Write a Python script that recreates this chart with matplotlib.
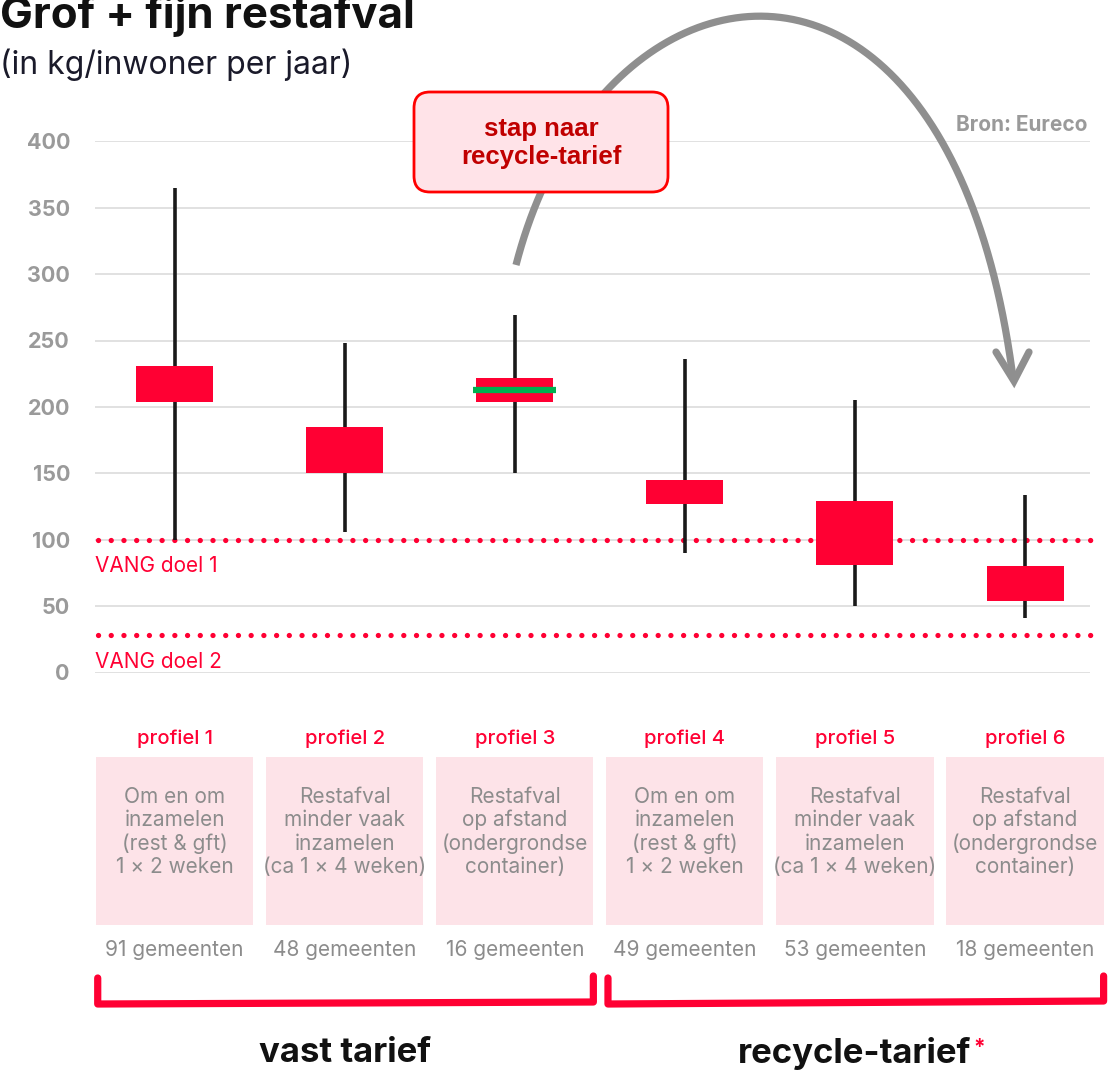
import matplotlib
matplotlib.use("Agg")
import matplotlib.pyplot as plt
import numpy as np
from matplotlib.patches import Rectangle, FancyBboxPatch
from matplotlib.transforms import blended_transform_factory

# Data
profiles = ["profiel 1", "profiel 2", "profiel 3", "profiel 4", "profiel 5", "profiel 6"]
descriptions = [
    "Om en om\ninzamelen\n(rest & gft)\n1 × 2 weken",
    "Restafval\nminder vaak\ninzamelen\n(ca 1 × 4 weken)",
    "Restafval\nop afstand\n(ondergrondse\ncontainer)",
    "Om en om\ninzamelen\n(rest & gft)\n1 × 2 weken",
    "Restafval\nminder vaak\ninzamelen\n(ca 1 × 4 weken)",
    "Restafval\nop afstand\n(ondergrondse\ncontainer)",
]
gemeenten = [91, 48, 16, 49, 53, 18]
box_low = [204, 150, 204, 127, 81, 54]
box_high = [231, 185, 222, 145, 129, 80]
whisker_low = [100, 106, 150, 90, 50, 41]
whisker_high = [365, 248, 269, 236, 205, 134]
highlight_profile = 3
highlight_value = 213
vang_values = [100, 28]
vang_labels = ["VANG doel 1", "VANG doel 2"]
yticks = [0, 50, 100, 150, 200, 250, 300, 350, 400]
groups = ["vast tarief", "recycle-tarief"]
group_members = [[1, 2, 3], [4, 5, 6]]

RED = "#ff0033"
GREY_TXT = "#8c8c8c"
PINK = "#fde3e8"
FONT = ["Inter", "DejaVu Sans"]
plt.rcParams["font.family"] = FONT

W, H = 1115, 1070
fig = plt.figure(figsize=(W / 100, H / 100), dpi=100)

# main chart axes (pixel layout: x 95..1090, y 141..672)
left, right = 95 / W, 1090 / W
ax = fig.add_axes([left, (H - 672.5) / H, right - left, 531.2 / H])
xpos = np.arange(1, len(profiles) + 1)
xlim = (0.532, 6.382)
ax.set_xlim(*xlim)
ax.set_ylim(0, 400)
ax.set_yticks(yticks)
ax.set_xticks([])
ax.tick_params(axis="y", length=0, pad=18, labelsize=15.5, labelcolor="#9a9a9a")
for lab in ax.get_yticklabels():
    lab.set_fontweight("bold")
ax.grid(axis="y", color="#dcdcdc", linewidth=1.2)
ax.set_axisbelow(True)
for s in ax.spines.values():
    s.set_visible(False)

box_w = 0.453
for x, lo, hi, wl, wh in zip(xpos, box_low, box_high, whisker_low, whisker_high):
    ax.plot([x, x], [wl, wh], color="#1a1a1a", linewidth=2.6, zorder=3, solid_capstyle="butt")
    ax.add_patch(Rectangle((x - box_w / 2, lo), box_w, hi - lo, facecolor=RED, edgecolor="none", zorder=4))
ax.plot([highlight_profile - 0.245, highlight_profile + 0.245], [highlight_value, highlight_value],
        color="#00b050", linewidth=4.5, zorder=5, solid_capstyle="butt")

trans = blended_transform_factory(ax.transAxes, ax.transData)
for v, lab in zip(vang_values, vang_labels):
    ax.plot([0.003, 1.012], [v, v], transform=trans, color=RED, linewidth=3.8,
            linestyle=(0, (0.01, 2.4)), dash_capstyle="round", clip_on=False, zorder=2)
    ax.annotate(lab, xy=(0, v), xycoords=trans, xytext=(0, -19), textcoords="offset points",
                ha="left", va="center", color=RED, fontsize=15)

# lower panel axes: shares the x scale, y in pixels from the top
axp = fig.add_axes([left, 0, right - left, 370 / H])
axp.set_xlim(*xlim)
axp.set_ylim(1070, 700)
axp.axis("off")
panel_w = 0.924
for x, prof, desc, n in zip(xpos, profiles, descriptions, gemeenten):
    axp.text(x, 739, prof, ha="center", va="center", color=RED, fontsize=14.5,
             fontweight="medium")
    axp.add_patch(Rectangle((x - panel_w / 2, 757), panel_w, 168, facecolor=PINK,
                            edgecolor="none", clip_on=False))
    axp.text(x, 832, desc, ha="center", va="center", color=GREY_TXT, fontsize=15,
             linespacing=1.2)
    axp.text(x, 950, f"{n} gemeenten", ha="center", va="center", color=GREY_TXT, fontsize=15)

for gi, (g, members) in enumerate(zip(groups, group_members)):
    x0 = min(members) - panel_w / 2 + 0.01
    x1 = max(members) + panel_w / 2
    axp.plot([x0, x0, x1, x1], [978, 1004, 1002 if gi == 0 else 1001, 976], color=RED, linewidth=5.2,
             solid_joinstyle="round", solid_capstyle="round", clip_on=False)
    xc = (min(members) + max(members)) / 2
    t = axp.text(xc, 1053, g, ha="center", va="center", fontsize=25, fontweight="bold",
                 color="#111111")
    if gi == 1:
        axp.annotate("*", xy=(1.0, 0.95), xycoords=t, xytext=(1, 0), textcoords="offset points",
                     ha="left", va="top", color=RED, fontsize=15, fontweight="bold")

# overlay axes in pixel coordinates for title, arrow and callout
axo = fig.add_axes([0, 0, 1, 1])
axo.set_xlim(0, W)
axo.set_ylim(H, 0)
axo.axis("off")
axo.patch.set_alpha(0)

axo.text(0, 28, "Grof + fijn restafval", ha="left", va="baseline", fontsize=31.5,
         fontweight="bold", color="#111111")
axo.text(0, 65, "(in kg/inwoner per jaar)", ha="left", va="center", fontsize=23,
         color="#1a1a2a")
axo.text(1088, 125, "Bron: Eureco", ha="right", va="center", fontsize=15,
         fontweight="bold", color="#9a9a9a")

# curved arrow drawn as one cubic Bezier in pixel coordinates
p0, c1, c2, p3 = map(np.array, [(516, 265), (600, -60), (950, -110), (1013, 378)])
tt = np.linspace(0, 1, 200)[:, None]
curve = ((1 - tt) ** 3 * p0 + 3 * (1 - tt) ** 2 * tt * c1
         + 3 * (1 - tt) * tt ** 2 * c2 + tt ** 3 * p3)
axo.plot(curve[:, 0], curve[:, 1], color="#8f8f8f", linewidth=5.2, solid_capstyle="butt", zorder=2)
axo.plot([996, 1014, 1029], [352, 381, 352], color="#8f8f8f", linewidth=5.2,
         solid_joinstyle="miter", solid_capstyle="round", zorder=2)

axo.add_patch(FancyBboxPatch((414, 92), 254, 100, boxstyle="round,pad=0,rounding_size=16",
                             facecolor="#ffe3e8", edgecolor="#ff0000", linewidth=2, zorder=5))
axo.text(541, 143, "stap naar\nrecycle-tarief", ha="center", va="center", fontsize=18.5,
         fontweight="bold", color="#c00000", linespacing=1.2, zorder=6,
         family=["Liberation Sans", "DejaVu Sans"])

fig.savefig("out.png", dpi=100)
